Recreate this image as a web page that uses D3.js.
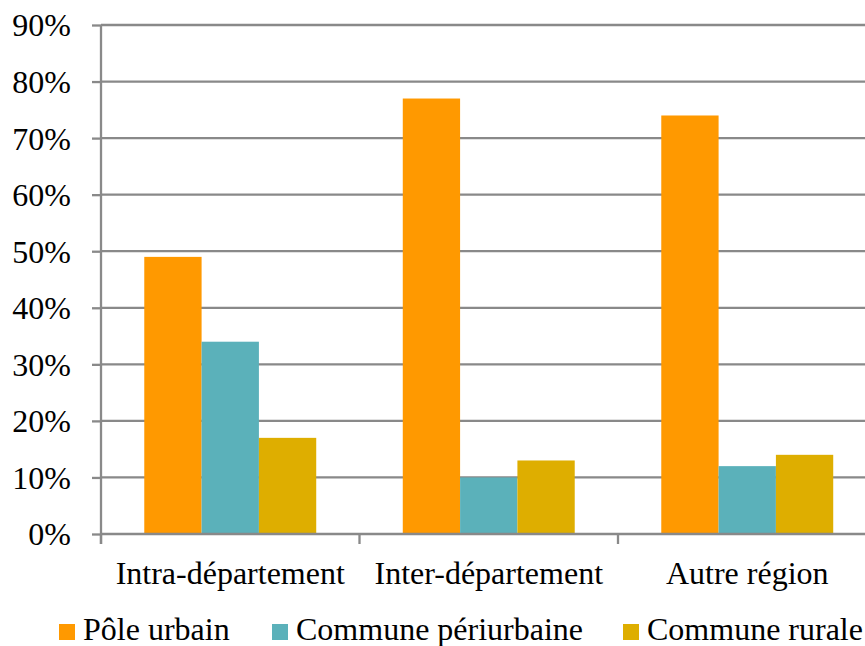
<!DOCTYPE html>
<html><head><meta charset="utf-8">
<script src="https://cdn.jsdelivr.net/npm/d3@7"></script>
<style>html,body{margin:0;padding:0;background:#fff;overflow:hidden}</style>
</head><body>
<svg id="c" width="865" height="646"></svg>
<script>
const categories = ["Intra-département", "Inter-département", "Autre région"];
const seriesNames = ["Pôle urbain", "Commune périurbaine", "Commune rurale"];
const poleUrbain = [0.49, 0.77, 0.74];
const communePeriurbaine = [0.34, 0.10, 0.12];
const communeRurale = [0.17, 0.13, 0.14];
const yTicks = [0, 0.1, 0.2, 0.3, 0.4, 0.5, 0.6, 0.7, 0.8, 0.9];
const colors = ["#FF9900", "#5BB1BA", "#DEAE00"];

const values = [poleUrbain, communePeriurbaine, communeRurale];
const svg = d3.select("#c");
const font = '"Liberation Serif"';
const fs = "32px";
const grid = "#898989";

const x0 = 101, step = 258.5;
const x = d3.scaleBand().domain(categories).range([x0, x0 + step * categories.length]).padding(0);
const xs = d3.scaleBand().domain(seriesNames).range([0, x.bandwidth()]).paddingInner(0).paddingOuter(0.755);
const y = d3.scaleLinear().domain([0, 0.9]).range([534, 25]);

// gridlines
svg.append("g").selectAll("line").data(yTicks.slice(1)).join("line")
  .attr("x1", x0).attr("x2", 900)
  .attr("y1", d => y(d)).attr("y2", d => y(d))
  .attr("stroke", grid).attr("stroke-width", 2.3);

// bars
const g = svg.append("g");
categories.forEach((c, ci) => {
  seriesNames.forEach((s, si) => {
    g.append("rect")
      .attr("x", x(c) + xs(s))
      .attr("y", y(values[si][ci]))
      .attr("width", xs.bandwidth())
      .attr("height", y(0) - y(values[si][ci]))
      .attr("fill", colors[si]);
  });
});

// y axis
const yAxis = d3.axisLeft(y).tickValues(yTicks).tickFormat(d3.format(".0%")).tickSize(9).tickPadding(21);
const ya = svg.append("g").attr("transform", `translate(${x0},0)`).call(yAxis);
ya.attr("font-family", null).attr("font-size", null);
ya.select(".domain").remove();
ya.selectAll(".tick line").attr("stroke", grid).attr("stroke-width", 2.3);
ya.selectAll("text").style("font-family", font).style("font-size", fs).attr("fill", "#000").attr("dy", "0.34em");
svg.append("line").attr("x1", x0).attr("x2", x0).attr("y1", y(0.9)).attr("y2", 544)
  .attr("stroke", grid).attr("stroke-width", 2.3);

// x axis
svg.append("line").attr("x1", x0).attr("x2", 900).attr("y1", y(0)).attr("y2", y(0))
  .attr("stroke", grid).attr("stroke-width", 2.3);
svg.append("g").selectAll("line").data(categories).join("line")
  .attr("x1", d => x(d)).attr("x2", d => x(d)).attr("y1", y(0)).attr("y2", 544)
  .attr("stroke", grid).attr("stroke-width", 2.3);
svg.append("g").selectAll("text").data(categories).join("text")
  .attr("x", d => x(d) + x.bandwidth() / 2).attr("y", 584)
  .attr("text-anchor", "middle").style("font-family", font).style("font-size", fs).attr("fill", "#000")
  .text(d => d);

// legend
const legX = [59, 272, 623];
const lg = svg.append("g");
seriesNames.forEach((s, i) => {
  lg.append("rect").attr("x", legX[i]).attr("y", 624).attr("width", 16).attr("height", 16).attr("fill", colors[i]);
  lg.append("text").attr("x", legX[i] + 24).attr("y", 640)
    .style("font-family", font).style("font-size", fs).attr("fill", "#000").text(s);
});
</script>
</body></html>
